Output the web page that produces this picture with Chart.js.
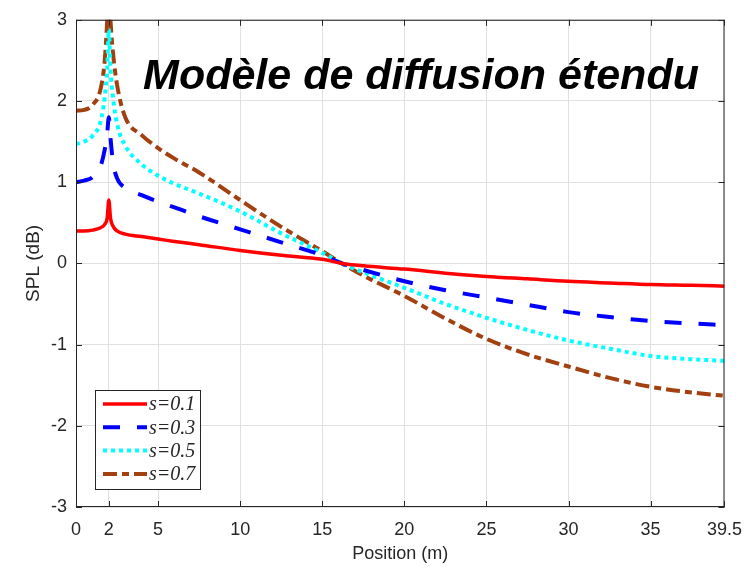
<!DOCTYPE html>
<html>
<head>
<meta charset="utf-8">
<script src="https://cdn.jsdelivr.net/npm/chart.js@4/dist/chart.umd.min.js"></script>
<style>
  body { margin: 0; background: #fff; }
  canvas { display: block; }
</style>
</head>
<body>
<canvas id="splChart" width="754" height="572"></canvas>
<script>
// position along the room (m)
const positions = [0, 0.5, 1, 1.5, 1.75, 1.9, 2, 2.1, 2.25, 2.5, 3, 4, 5, 6, 7.5, 10, 12.5, 15, 16.2, 17.5, 20, 22.5, 25, 27.5, 30, 32.5, 35, 37.5, 39.5];

// SPL (dB) for each scattering coefficient
const spl01 = [0.40, 0.40, 0.41, 0.44, 0.48, 0.56, 0.78, 0.56, 0.46, 0.40, 0.36, 0.33, 0.30, 0.27, 0.23, 0.16, 0.10, 0.05, 0.00, -0.03, -0.07, -0.12, -0.16, -0.19, -0.22, -0.24, -0.26, -0.27, -0.28];
const spl03 = [1.00, 1.02, 1.06, 1.20, 1.40, 1.60, 1.80, 1.55, 1.25, 1.05, 0.93, 0.84, 0.76, 0.69, 0.58, 0.42, 0.26, 0.10, 0.00, -0.08, -0.22, -0.33, -0.42, -0.51, -0.60, -0.66, -0.71, -0.74, -0.76];
const spl05 = [1.47, 1.50, 1.57, 1.75, 2.05, 2.40, 2.88, 2.40, 2.05, 1.72, 1.45, 1.22, 1.08, 0.98, 0.86, 0.64, 0.37, 0.13, 0.00, -0.11, -0.30, -0.50, -0.67, -0.82, -0.95, -1.05, -1.14, -1.18, -1.20];
const spl07 = [1.88, 1.89, 1.95, 2.15, 2.50, 3.00, 3.50, 3.00, 2.60, 2.20, 1.80, 1.58, 1.42, 1.29, 1.12, 0.78, 0.45, 0.15, 0.00, -0.15, -0.40, -0.68, -0.93, -1.12, -1.27, -1.41, -1.52, -1.59, -1.63];

const seriesLabels = ["s=0.1", "s=0.3", "s=0.5", "s=0.7"];
const xTickValues = [0, 2, 5, 10, 15, 20, 25, 30, 35, 39.5];
const yTickValues = [-3, -2, -1, 0, 1, 2, 3];
const plotTitle = "Modèle de diffusion étendu";

const axisColor = "#262626";
const sans = "'Liberation Sans', Arial, sans-serif";

function toPoints(ys) {
  return positions.map((x, i) => ({ x: x, y: ys[i] }));
}

// inner ticks, box border, title and legend like the original figure
const figureDecor = {
  id: "figureDecor",
  afterDatasetsDraw(chart) {
    const { ctx, chartArea: a, scales } = chart;
    ctx.save();

    // box
    ctx.strokeStyle = axisColor;
    ctx.lineWidth = 1;
    ctx.strokeRect(a.left + 0.5, a.top + 0.5, a.right - a.left - 1, a.bottom - a.top - 1);

    // inward ticks
    const len = 6;
    ctx.beginPath();
    xTickValues.forEach(v => {
      const px = Math.round(scales.x.getPixelForValue(v)) + 0.5;
      ctx.moveTo(px, a.bottom); ctx.lineTo(px, a.bottom - len);
      ctx.moveTo(px, a.top); ctx.lineTo(px, a.top + len);
    });
    yTickValues.forEach(v => {
      const py = Math.round(scales.y.getPixelForValue(v)) + 0.5;
      ctx.moveTo(a.left, py); ctx.lineTo(a.left + len, py);
      ctx.moveTo(a.right, py); ctx.lineTo(a.right - len, py);
    });
    ctx.stroke();

    // title inside the axes
    ctx.fillStyle = "#000";
    ctx.font = "italic bold 43px " + sans;
    ctx.textAlign = "center";
    ctx.textBaseline = "alphabetic";
    ctx.fillText(plotTitle, 421, 89);

    // legend box, lower left
    const bx = 95, by = 390, bw = 105, bh = 99;
    ctx.fillStyle = "#fff";
    ctx.fillRect(bx, by, bw, bh);
    ctx.strokeStyle = axisColor;
    ctx.lineWidth = 1;
    ctx.strokeRect(bx + 0.5, by + 0.5, bw, bh);

    chart.data.datasets.forEach((ds, i) => {
      const y = 404 + i * 23.3;
      ctx.strokeStyle = ds.borderColor;
      ctx.lineWidth = ds.borderWidth;
      ctx.setLineDash(ds.borderDash || []);
      ctx.beginPath();
      ctx.moveTo(103, y);
      ctx.lineTo(147, y);
      ctx.stroke();
      ctx.setLineDash([]);
      ctx.fillStyle = axisColor;
      ctx.font = "italic 20px 'Liberation Serif', 'Times New Roman', serif";
      ctx.textAlign = "left";
      ctx.textBaseline = "middle";
      ctx.fillText(ds.label, 149, y + 1);
    });

    ctx.restore();
  }
};

const ctx = document.getElementById("splChart").getContext("2d");

new Chart(ctx, {
  type: "line",
  data: {
    datasets: [
      { label: seriesLabels[0], data: toPoints(spl01), borderColor: "#ff0000", borderWidth: 3.5 },
      { label: seriesLabels[1], data: toPoints(spl03), borderColor: "#0000ff", borderWidth: 4, borderDash: [17, 17] },
      { label: seriesLabels[2], data: toPoints(spl05), borderColor: "#00ffff", borderWidth: 4, borderDash: [4, 4] },
      { label: seriesLabels[3], data: toPoints(spl07), borderColor: "#a2400f", borderWidth: 4, borderDash: [14, 5, 7, 5] }
    ]
  },
  options: {
    responsive: false,
    animation: false,
    layout: { padding: { left: 0, top: 16, right: 28, bottom: 0 } },
    elements: {
      point: { radius: 0 },
      line: { cubicInterpolationMode: "monotone", fill: false }
    },
    plugins: {
      legend: { display: false },
      tooltip: { enabled: false }
    },
    scales: {
      x: {
        type: "linear",
        min: 0,
        max: 39.5,
        afterBuildTicks: scale => {
          scale.ticks = xTickValues.map(v => ({ value: v }));
        },
        afterFit: scale => { scale.height = 65; },
        grid: { color: "#e0e0e0", drawTicks: false },
        border: { display: false },
        ticks: {
          color: axisColor,
          font: { family: sans, size: 18 },
          padding: 12,
          maxRotation: 0,
          autoSkip: false,
          callback: v => String(v)
        },
        title: {
          display: true,
          text: "Position (m)",
          color: axisColor,
          font: { family: sans, size: 18 },
          padding: { top: 0, bottom: 7 }
        }
      },
      y: {
        min: -3,
        max: 3,
        afterBuildTicks: scale => {
          scale.ticks = yTickValues.map(v => ({ value: v }));
        },
        afterFit: scale => { scale.width = 76; },
        grid: { color: "#e0e0e0", drawTicks: false },
        border: { display: false },
        ticks: {
          color: axisColor,
          font: { family: sans, size: 18 },
          padding: 9
        },
        title: {
          display: true,
          text: "SPL (dB)",
          color: axisColor,
          font: { family: sans, size: 19 },
          padding: { top: 22, bottom: 0 }
        }
      }
    }
  },
  plugins: [figureDecor]
});
</script>
</body>
</html>
